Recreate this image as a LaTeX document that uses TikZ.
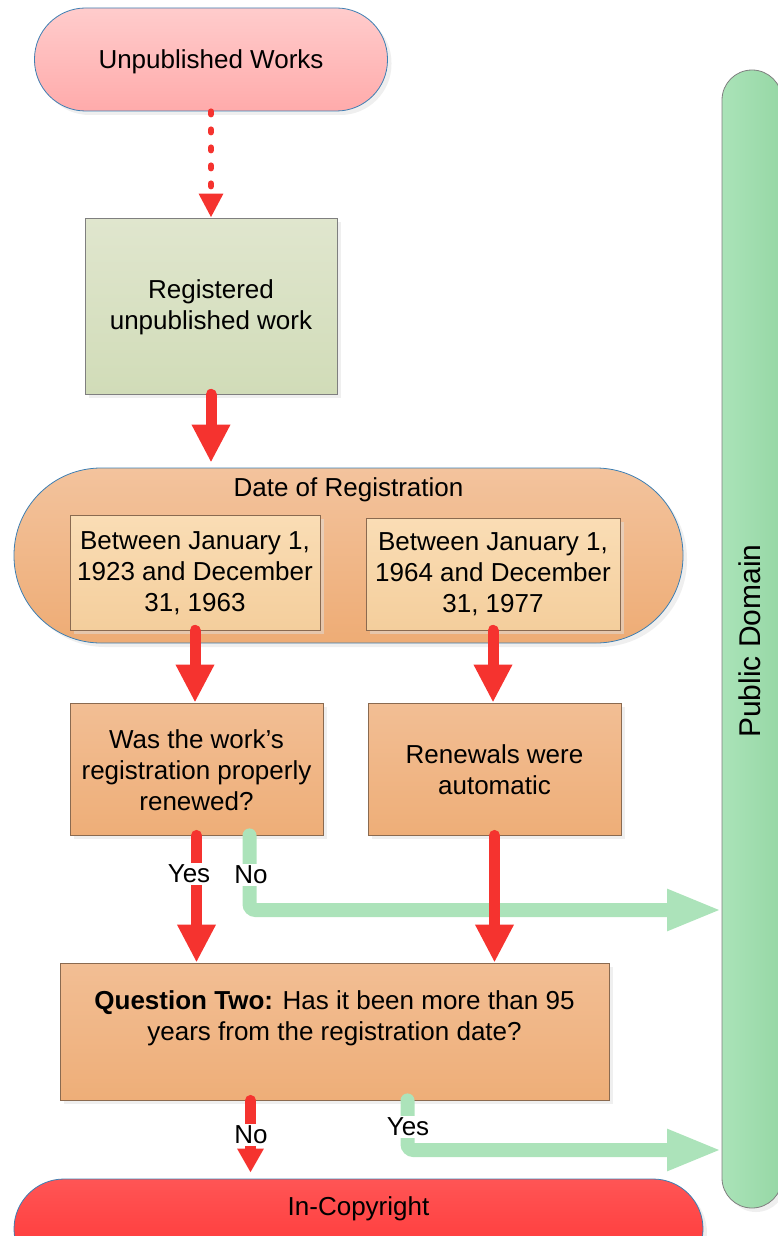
\documentclass[tikz,border=0pt]{standalone}
\usepackage{fontspec}
\setmainfont{Liberation Sans}
\usepackage{tikz}
\usetikzlibrary{arrows.meta,shadows}

\definecolor{arrred}{HTML}{F5332F}
\definecolor{arrgreen}{HTML}{ACE3BA}
\definecolor{termline}{HTML}{3D7FB3}
\definecolor{boxline}{HTML}{7F7F7F}
\definecolor{qline}{HTML}{8A6A50}

\begin{document}
\begin{tikzpicture}[x=1pt, y=-1pt,
  every node/.style={font=\fontsize{26}{31}\selectfont, align=center, inner sep=0pt},
  shade/.style={drop shadow={shadow xshift=4pt, shadow yshift=-4pt, fill=black!12}},
  stadium/.style={draw=termline, line width=0.8pt, rounded corners=#1, shade},
  rbox/.style={draw=#1, line width=0.8pt, shade},
  redarrow/.style={draw=arrred, line width=11pt, line cap=round, -{Triangle[length=38pt, width=36pt]}},
  greenarrow/.style={draw=arrgreen, line width=14pt, line cap=round, rounded corners=6pt, -{Triangle[length=55pt, width=38pt]}},
  answer/.style={fill=white, inner sep=2pt}
]
\useasboundingbox (0,0) rectangle (777,1236);

% terminals
\node[stadium=51pt, minimum width=353pt, minimum height=103pt, top color=red!20, bottom color=red!33]
  (unpub) at (211,59.5) {};
\node (unpubtext) at (211,62) {Unpublished Works};
\node[stadium=30pt, draw=boxline, minimum width=60pt, minimum height=1138pt,
  left color={rgb,255:red,170;green,227;blue,184}, right color={rgb,255:red,150;green,215;blue,165}]
  (pd) at (752,639) {};
\node[rotate=90, font=\fontsize{30}{36}\selectfont] (pdtext) at (750,641) {Public Domain};
\node[stadium=50pt, minimum width=689pt, minimum height=100pt,
  top color={rgb,255:red,255;green,85;blue,85}, bottom color={rgb,255:red,255;green,50;blue,50}]
  (inc) at (358.5,1229) {};
\node (inctext) at (358.5,1209) {In-Copyright};

% registration
\node[rbox=boxline, minimum width=252pt, minimum height=176pt,
  top color={rgb,255:red,224;green,230;blue,206}, bottom color={rgb,255:red,209;green,220;blue,184}]
  (reg) at (211,306) {};
\node (regtext) at (211,307) {Registered\\unpublished work};

\node[stadium=87pt, minimum width=669pt, minimum height=175pt,
  top color={rgb,255:red,243;green,195;blue,157}, bottom color={rgb,255:red,238;green,172;blue,117}]
  (date) at (348.5,555.5) {};
\node (datetext) at (348.5,490) {Date of Registration};
\node[rbox=qline, minimum width=250pt, minimum height=115pt,
  top color={rgb,255:red,250;green,221;blue,181}, bottom color={rgb,255:red,244;green,206;blue,156}]
  (early) at (195,572.5) {};
\node (earlytext) at (195,573) {Between January 1,\\1923 and December\\31, 1963};
\node[rbox=qline, minimum width=254pt, minimum height=112pt,
  top color={rgb,255:red,250;green,221;blue,181}, bottom color={rgb,255:red,244;green,206;blue,156}]
  (late) at (493,574) {};
\node (latetext) at (493,574.5) {Between January 1,\\1964 and December\\31, 1977};

% questions
\node[rbox=qline, minimum width=253pt, minimum height=132pt,
  top color={rgb,255:red,242;green,190;blue,148}, bottom color={rgb,255:red,238;green,174;blue,120}]
  (renewed) at (196.5,769) {};
\node (renewedtext) at (196.5,770) {Was the work’s\\registration properly\\renewed?};
\node[rbox=qline, minimum width=253pt, minimum height=132pt,
  top color={rgb,255:red,242;green,190;blue,148}, bottom color={rgb,255:red,238;green,174;blue,120}]
  (auto) at (494.5,769) {};
\node (autotext) at (494.5,770) {Renewals were\\automatic};
\node[rbox=qline, minimum width=549pt, minimum height=137pt,
  top color={rgb,255:red,242;green,190;blue,148}, bottom color={rgb,255:red,238;green,174;blue,120}]
  (qtwo) at (334.5,1031.5) {};
\node (qtwotext) at (334.5,1018.5) {\textbf{Question Two:} Has it been more than 95\\years from the registration date?};

% connectors
\coordinate (pdno) at (722,910);
\coordinate (pdyes) at (722,1150);

\draw[arrred, line width=6pt, line cap=round, dash pattern=on 3pt off 15pt,
  -{Triangle[length=24pt, width=23pt]}] (unpub.south) -- (reg.north);
\draw[redarrow, shorten >=5pt] (reg.south) -- (reg.south |- date.north);
\draw[redarrow] (early.south) -- (early.south |- renewed.north);
\draw[redarrow] (late.south) -- (late.south |- auto.north);

\draw[greenarrow] ([xshift=53pt]renewed.south) |- (pdno);
\draw[redarrow] (renewed.south) -- (renewed.south |- qtwo.north);
\draw[redarrow] (auto.south) -- (auto.south |- qtwo.north);
\node[answer] (yes1) at (189,874) {Yes};
\node[answer] (no1) at (251,875) {No};

\draw[greenarrow] ([xshift=73pt]qtwo.south) |- (pdyes);
\draw[redarrow, -{Triangle[length=24pt, width=25pt]}, shorten >=6pt] ([xshift=-84pt]qtwo.south) -- ([xshift=-84pt]qtwo.south |- inc.north);
\node[answer] (no2) at (251,1135) {No};
\node[answer] (yes2) at (408,1127) {Yes};
\end{tikzpicture}
\end{document}
